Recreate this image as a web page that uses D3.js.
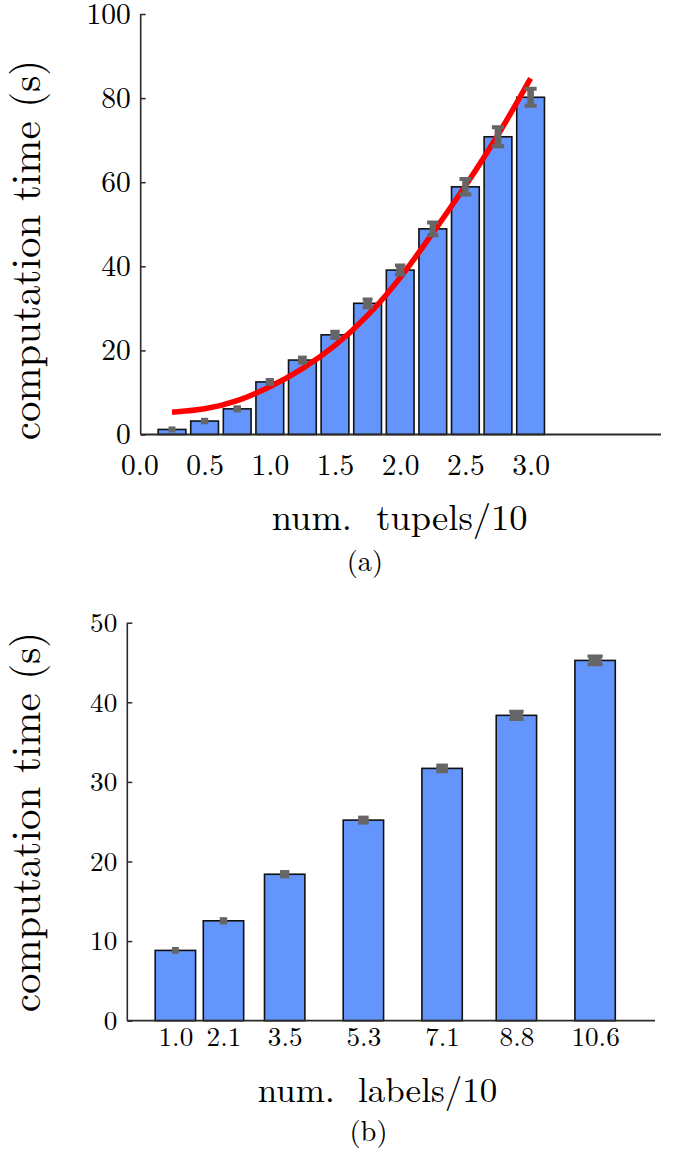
<!DOCTYPE html>
<html><head><meta charset="utf-8">
<script src="https://cdn.jsdelivr.net/npm/d3@7"></script>
<style>
html,body{margin:0;padding:0;background:#fff;}
svg{display:block;}
</style></head><body>
<svg id="chart" width="673" height="1152"></svg>
<script>
// Panel (a): computation time against number of tuples (x10)
const tupleCounts = [0.25, 0.5, 0.75, 1.0, 1.25, 1.5, 1.75, 2.0, 2.25, 2.5, 2.75, 3.0];
const tupleTimes  = [1.2, 3.2, 6.1, 12.5, 17.7, 23.7, 31.2, 39.1, 48.9, 58.9, 70.8, 80.2];
const tupleErrors = [0.48, 0.54, 0.6, 0.71, 0.83, 1.0, 1.15, 1.3, 1.74, 2.07, 2.5, 2.26];
const tupleFit    = [5.3, 5.9, 7.8, 11.2, 15.5, 20.9, 28.0, 37.0, 47.9, 59.0, 71.0, 84.7];
const tupleTicksX = [0, 0.5, 1.0, 1.5, 2.0, 2.5, 3.0];
const tupleTicksY = [0, 20, 40, 60, 80, 100];

// Panel (b): computation time against number of labels (x10)
const labelCounts = [1.0, 2.1, 3.5, 5.3, 7.1, 8.8, 10.6];
const labelTimes  = [8.83, 12.55, 18.4, 25.2, 31.7, 38.36, 45.26];
const labelErrors = [0.31, 0.33, 0.40, 0.44, 0.48, 0.58, 0.61];
const labelTicksY = [0, 10, 20, 30, 40, 50];

const FONT = "Latin Modern Roman";
const BAR_FILL = "#6495fd";
const MARK = "#666666";
const AXIS = "#2a2a2a";

const svg = d3.select("#chart");

// "I" shaped error marker centred on the mean
function iBeam(cx, yTop, yBot, w, s, c) {
  return `M${cx - w/2},${yTop}H${cx + w/2}V${yTop + c}H${cx + s/2}V${yBot - c}` +
         `H${cx + w/2}V${yBot}H${cx - w/2}V${yBot - c}H${cx - s/2}V${yTop + c}H${cx - w/2}Z`;
}
const clamp = (v, a, b) => Math.max(a, Math.min(b, v));

function drawPanel(cfg) {
  const g = svg.append("g");
  const x = cfg.x, y = cfg.y;
  const y0 = y(0);

  // bars
  const bw = x(cfg.barWidth) - x(0);
  const sw = 1.6;
  g.selectAll("rect.bar").data(cfg.counts).enter().append("rect")
    .attr("class", "bar")
    .attr("x", d => x(d) - bw / 2 + sw / 2)
    .attr("width", bw - sw)
    .attr("y", (d, i) => y(cfg.times[i]))
    .attr("height", (d, i) => y0 - y(cfg.times[i]))
    .attr("fill", BAR_FILL)
    .attr("stroke", "#111")
    .attr("stroke-width", sw);

  // optional fitted curve
  if (cfg.fit) {
    const line = d3.line().x((d, i) => x(cfg.counts[i])).y(d => y(d)).curve(d3.curveBasis);
    g.append("path").datum(cfg.fit)
      .attr("d", line)
      .attr("fill", "none")
      .attr("stroke", "#ff0000")
      .attr("stroke-width", 5.5);
  }

  // error markers
  g.selectAll("path.err").data(cfg.counts).enter().append("path")
    .attr("class", "err")
    .attr("fill", MARK)
    .attr("d", (d, i) => {
      const m = cfg.times[i], e = cfg.errors[i];
      const yTop = y(m + e) - 1, yBot = y(m - e) + 1;
      const h = yBot - yTop;
      const w = cfg.markWidth(h);
      const s = w * clamp(1 - (h - 10) / 12, 0.55, 1);
      const c = Math.min(4, h * 0.28);
      return iBeam(x(d), yTop, yBot, w, s, c);
    });

  // y axis (ticks pointing inward)
  const yAxis = d3.axisLeft(y).tickValues(cfg.ticksY).tickSize(-5).tickSizeOuter(0)
    .tickPadding(10).tickFormat(d3.format("d"));
  const ya = g.append("g").attr("transform", `translate(${cfg.axisX},0)`).call(yAxis)
    .attr("font-family", FONT).attr("font-size", cfg.tickFont);
  ya.select(".domain").remove();
  ya.selectAll("line").attr("stroke", AXIS).attr("stroke-width", 1.5);
  ya.selectAll("text").attr("fill", "#000");
  g.append("line")
    .attr("x1", cfg.axisX).attr("x2", cfg.axisX)
    .attr("y1", y(cfg.ticksY[cfg.ticksY.length - 1])).attr("y2", y0)
    .attr("stroke", AXIS).attr("stroke-width", 1.6);

  // x axis (labels only, no tick marks)
  const xAxis = d3.axisBottom(x).tickValues(cfg.ticksX).tickSize(0)
    .tickPadding(cfg.xPad).tickFormat(cfg.xFormat);
  const xa = g.append("g").attr("transform", `translate(0,${y0})`).call(xAxis)
    .attr("font-family", FONT).attr("font-size", cfg.tickFont);
  xa.select(".domain").remove();
  xa.selectAll("text").attr("fill", "#000");
  g.append("line")
    .attr("x1", cfg.axisX).attr("x2", cfg.axisEnd)
    .attr("y1", y0).attr("y2", y0)
    .attr("stroke", AXIS).attr("stroke-width", 1.8);

  // axis titles and caption
  g.append("text")
    .attr("transform", `translate(40,${cfg.yTitleMid}) rotate(-90)`)
    .attr("text-anchor", "middle")
    .attr("font-family", FONT)
    .attr("font-size", 41)
    .text("computation time (s)");
  g.append("text")
    .attr("x", cfg.xTitle[0]).attr("y", cfg.xTitle[1])
    .attr("text-anchor", "middle")
    .attr("font-family", FONT)
    .attr("font-size", cfg.xTitleFont)
    .style("white-space", "pre")
    .text(cfg.xTitleText);
  g.append("text")
    .attr("x", cfg.caption[0]).attr("y", cfg.caption[1])
    .attr("text-anchor", "middle")
    .attr("font-family", FONT)
    .attr("font-size", 28.5)
    .text(cfg.captionText);
}

drawPanel({
  x: d3.scaleLinear().domain([0, 4]).range([139.4, 661]),
  y: d3.scaleLinear().domain([0, 100]).range([434.5, 14]),
  counts: tupleCounts, times: tupleTimes, errors: tupleErrors, fit: tupleFit,
  barWidth: 0.225,
  ticksX: tupleTicksX, ticksY: tupleTicksY,
  xFormat: d3.format(".1f"),
  axisX: 140.7, axisEnd: 661,
  tickFont: 29.5, xPad: 19.6,
  markWidth: h => 13 * (1 - Math.exp(-h / 8)),
  yTitleMid: 250,
  xTitle: [399.7, 530], xTitleFont: 36.5, xTitleText: "num.  tupels/10",
  caption: [365, 571], captionText: "(a)"
});

drawPanel({
  x: d3.scaleLinear().domain([-0.1, 11.97]).range([127.3, 655]),
  y: d3.scaleLinear().domain([0, 50]).range([1020.7, 622.7]),
  counts: labelCounts, times: labelTimes, errors: labelErrors, fit: null,
  barWidth: 0.96,
  ticksX: labelCounts, ticksY: labelTicksY,
  xFormat: d3.format(".1f"),
  axisX: 127.3, axisEnd: 655,
  tickFont: 27.2, xPad: 6,
  markWidth: h => Math.max(6, 1.77 * h - 5.4),
  yTitleMid: 822,
  xTitle: [377.5, 1102], xTitleFont: 35, xTitleText: "num.  labels/10",
  caption: [368.5, 1141], captionText: "(b)"
});
</script>
</body></html>
